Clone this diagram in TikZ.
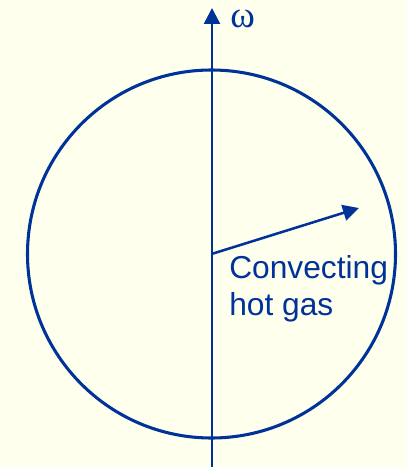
\documentclass[tikz,border=0pt]{standalone}
\usepackage{fontspec}
\setmainfont{Liberation Sans}
\newfontfamily\greekfont{Liberation Serif}
\usepackage{tikz}
\usetikzlibrary{arrows.meta, positioning, calc}
\definecolor{starblue}{RGB}{0, 51, 153}
\definecolor{paper}{RGB}{255, 255, 238}

\begin{document}
\begin{tikzpicture}[x=0.75pt, y=-0.75pt,
    rim/.style={draw=starblue, line width=2.3pt},
    axisline/.style={draw=starblue, line width=1.9pt, -{Triangle[length=12pt, width=12pt]}},
    label/.style={text=starblue, inner sep=0pt}]
\fill[paper] (0,0) rectangle (407,467);
\useasboundingbox (0,0) rectangle (407,467);
\coordinate (centre) at (211.5,254);
\coordinate (bottom) at (212,467);
\coordinate (top) at (212,8);
\coordinate (flow) at (359,208);
\draw[rim] (centre) circle[radius=138pt];
\draw[axisline] (bottom) -- (top);
\draw[axisline] (centre) -- (flow);
\node[label, anchor=base west, font=\greekfont\fontsize{28}{28}\selectfont] (omega) at (230,28) {ω};
\node[label, anchor=north west, align=left, font=\fontsize{23.8}{27.8}\selectfont] (gas) at (229,255)
    {Convecting\\hot gas};
\end{tikzpicture}
\end{document}
